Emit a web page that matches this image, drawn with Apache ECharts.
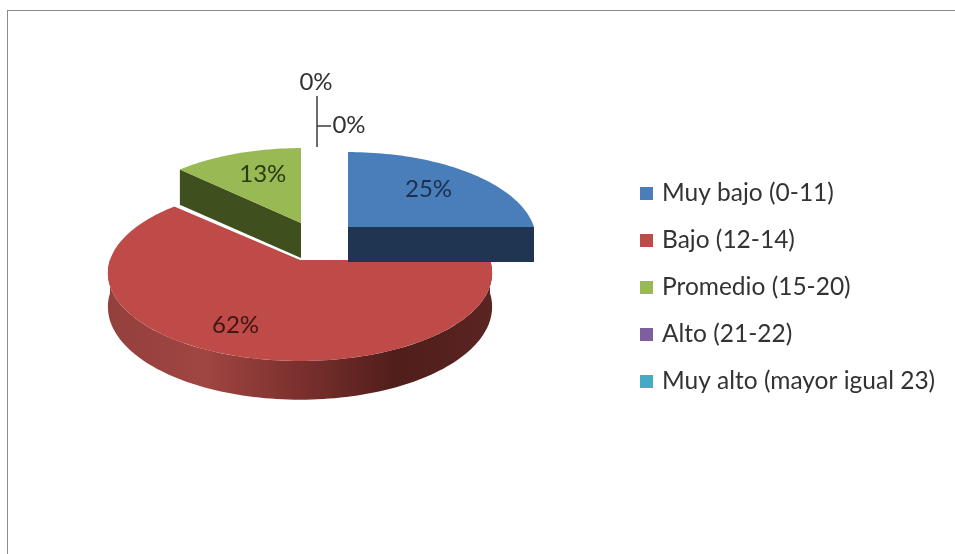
<!DOCTYPE html>
<html>
<head>
<meta charset="utf-8">
<style>html,body{margin:0;padding:0;background:#fff}#c{width:955px;height:554px}</style>
<script src="https://cdn.jsdelivr.net/npm/echarts@6/dist/echarts.min.js"></script>
</head>
<body>
<div id="c"></div>
<script>
const categories = ['Muy bajo (0-11)', 'Bajo (12-14)', 'Promedio (15-20)', 'Alto (21-22)', 'Muy alto (mayor igual 23)'];
const percentages = [25, 62, 13, 0, 0];
const sliceColors = ['#4a7ebb', '#be4b48', '#98b954', '#7d5fa0', '#46aac5'];
const faceColors = ['#1f3552', '#5a2320', '#3f4f1d', '#3f2f50', '#235562'];
const labelColors = ['#1b2f4e', '#3e1614', '#2b3b14', '#333333', '#333333'];

// Layout of the drawing (exploded slices, tilt and perspective), no data here
const PERSPECTIVE = 0.148;
const RY = 86;
const LABEL_RADIUS = 0.68;
const sliceLayout = [
  { cx: 348, cy: 227, r: 186, depth: 30, nudge: [-3, 1], faceEdge: 'end' },
  { cx: 300, cy: 260, r: 190, depth: 33, nudge: [-12, 5] },
  { cx: 301, cy: 223, r: 183, depth: 30, nudge: [7, 0], faceEdge: 'start' },
  { labelX: 316, labelY: 82, leader: [[317, 96], [317, 147]] },
  { labelX: 349, labelY: 125, leader: [[317, 126], [331, 126]] }
];
const LABEL_FONT = '24px Lato';

const total = percentages.reduce((a, b) => a + b, 0);
function startAngle(i) {
  return percentages.slice(0, i).reduce((a, b) => a + b, 0) / total * 360;
}
function project(l, deg, frac, drop) {
  const t = deg * Math.PI / 180, u = Math.sin(t) * frac, v = -Math.cos(t) * frac;
  const p = 1 / (1 - PERSPECTIVE * v);
  return [l.cx + l.r * u * p, l.cy + RY * v * p + drop * p];
}
function arc(l, a0, a1, drop) {
  const pts = [];
  const n = Math.max(2, Math.ceil((a1 - a0) / 1.5));
  for (let j = 0; j <= n; j++) pts.push(project(l, a0 + (a1 - a0) * j / n, 1, drop));
  return pts;
}
function renderSlice(index) {
  return function (params, api) {
    const value = api.value(0);
    const l = sliceLayout[index];
    const children = [];
    if (value === 0) {
      children.push({ type: 'polyline', silent: true, shape: { points: l.leader },
        style: { stroke: '#3a3a3a', lineWidth: 1.5, fill: null } });
      children.push({ type: 'text', silent: true, style: { x: l.labelX, y: l.labelY, text: value + '%',
        font: LABEL_FONT, fill: labelColors[index], align: 'center', verticalAlign: 'middle' } });
      return { type: 'group', children };
    }
    const a0 = startAngle(index), a1 = a0 + value / total * 360;
    const apex = [l.cx, l.cy];
    // Outer wall on the near half of the ellipse
    const wall0 = Math.max(a0, 90), wall1 = Math.min(a1, 270);
    if (wall1 > wall0) {
      children.push({ type: 'polygon', silent: true,
        shape: { points: arc(l, wall0, wall1, 0).concat(arc(l, wall0, wall1, l.depth).reverse()) },
        style: { fill: new echarts.graphic.LinearGradient(0, 0, 1, 0, [
          { offset: 0, color: '#93403d' },
          { offset: 0.25, color: '#a04542' },
          { offset: 0.5, color: '#7b302d' },
          { offset: 0.75, color: '#501e1b' },
          { offset: 1, color: '#5a2421' }
        ]) } });
    }
    // Visible cut face: the radial edge that looks towards the viewer
    if (l.faceEdge) {
      const end = project(l, l.faceEdge === 'end' ? a1 : a0, 1, 0);
      const d = l.depth * 1.17;
      children.push({ type: 'polygon', silent: true,
        shape: { points: [apex, end, [end[0], end[1] + d], [apex[0], apex[1] + d]] },
        style: { fill: faceColors[index] } });
    }
    // Top surface
    children.push({ type: 'polygon', silent: true,
      shape: { points: [apex].concat(arc(l, a0, a1, 0)) },
      style: { fill: sliceColors[index] } });
    // Value label
    const mid = project(l, (a0 + a1) / 2, LABEL_RADIUS, 0);
    children.push({ type: 'text', silent: true, z2: 10, style: { x: mid[0] + l.nudge[0], y: mid[1] + l.nudge[1], text: value + '%',
      font: LABEL_FONT, fill: labelColors[index], align: 'center', verticalAlign: 'middle' } });
    return { type: 'group', children };
  };
}

// Paint red first, then the slices that lie behind and above it
const paintOrder = [1, 2, 0, 3, 4];
const series = categories.map((name, i) => ({
  type: 'custom',
  name,
  coordinateSystem: 'none',
  z: 2 + paintOrder.indexOf(i),
  silent: true,
  animation: false,
  itemStyle: { color: sliceColors[i] },
  data: [[percentages[i]]],
  renderItem: renderSlice(i)
}));

const chart = echarts.init(document.getElementById('c'), null, { renderer: 'canvas' });
chart.setOption({
  backgroundColor: '#ffffff',
  animation: false,
  legend: {
    orient: 'vertical',
    left: 635,
    top: 176,
    itemWidth: 13,
    itemHeight: 13,
    itemGap: 22,
    icon: 'rect',
    selectedMode: false,
    data: categories,
    textStyle: { fontFamily: 'Lato', fontSize: 24.5, color: '#333333', padding: [0, 0, 0, 4] }
  },
  graphic: [
    { type: 'line', silent: true, shape: { x1: 7, y1: 10.5, x2: 955, y2: 10.5 }, style: { stroke: '#8c8c8c', lineWidth: 1 } },
    { type: 'line', silent: true, shape: { x1: 7.5, y1: 10, x2: 7.5, y2: 554 }, style: { stroke: '#8c8c8c', lineWidth: 1 } }
  ],
  series
});
</script>
</body>
</html>
